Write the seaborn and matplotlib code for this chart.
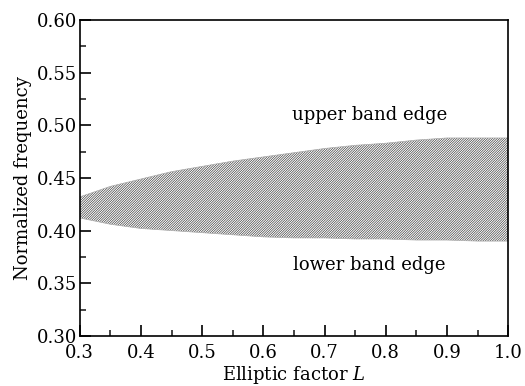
import matplotlib
matplotlib.use("Agg")
import matplotlib.pyplot as plt
import seaborn as sns
import numpy as np
import pandas as pd
from matplotlib.ticker import MultipleLocator, FormatStrFormatter

L_values = [0.30, 0.35, 0.40, 0.45, 0.50, 0.55, 0.60, 0.65, 0.70, 0.75, 0.80, 0.85, 0.90, 0.95, 1.00]
upper_edge = [0.432, 0.442, 0.449, 0.456, 0.461, 0.466, 0.470, 0.474, 0.478, 0.481, 0.483, 0.486, 0.488, 0.488, 0.488]
lower_edge = [0.412, 0.406, 0.402, 0.400, 0.398, 0.396, 0.394, 0.393, 0.393, 0.392, 0.392, 0.391, 0.391, 0.390, 0.390]

df = pd.DataFrame({"L": L_values, "upper": upper_edge, "lower": lower_edge})

sns.set_theme(style="ticks")
plt.rcParams['font.family'] = ['DejaVu Serif']
plt.rcParams['mathtext.fontset'] = 'dejavuserif'
plt.rcParams['hatch.linewidth'] = 0.45
plt.rcParams['hatch.color'] = '#333333'
plt.rcParams['text.color'] = 'black'
plt.rcParams['axes.labelcolor'] = 'black'

fig, ax = plt.subplots(figsize=(5.25, 3.86), dpi=100)
fig.subplots_adjust(left=0.152, right=0.968, top=0.948, bottom=0.13)

ax.fill_between(df["L"], df["lower"], df["upper"], facecolor="white",
                hatch="/" * 14, edgecolor="#333333", linewidth=0)
sns.lineplot(data=df, x="L", y="upper", ax=ax, color="#aaaaaa", linewidth=0.5)
sns.lineplot(data=df, x="L", y="lower", ax=ax, color="#aaaaaa", linewidth=0.5)

ax.set_xlim(0.3, 1.0)
ax.set_ylim(0.30, 0.60)
ax.xaxis.set_major_locator(MultipleLocator(0.1))
ax.xaxis.set_minor_locator(MultipleLocator(0.05))
ax.yaxis.set_major_locator(MultipleLocator(0.05))
ax.yaxis.set_minor_locator(MultipleLocator(0.025))
ax.xaxis.set_major_formatter(FormatStrFormatter('%.1f'))
ax.yaxis.set_major_formatter(FormatStrFormatter('%.2f'))

ax.tick_params(axis="both", which="major", direction="in", length=8, width=1.2,
               labelsize=13, colors="black")
ax.tick_params(axis="x", which="major", pad=6)
ax.tick_params(axis="y", which="major", pad=2)
ax.tick_params(axis="both", which="minor", direction="in", length=4.3, width=1.2)
for s in ax.spines.values():
    s.set_linewidth(1.2)
    s.set_color("black")

ax.set_xlabel(r"Elliptic factor $L$", fontsize=13, labelpad=1)
ax.set_ylabel("Normalized frequency", fontsize=13, labelpad=3)

ax.text(0.773, 0.51, "upper band edge", fontsize=13, ha="center", va="center")
ax.text(0.773, 0.367, "lower band edge", fontsize=13, ha="center", va="center")

fig.savefig("out.png", dpi=100)
